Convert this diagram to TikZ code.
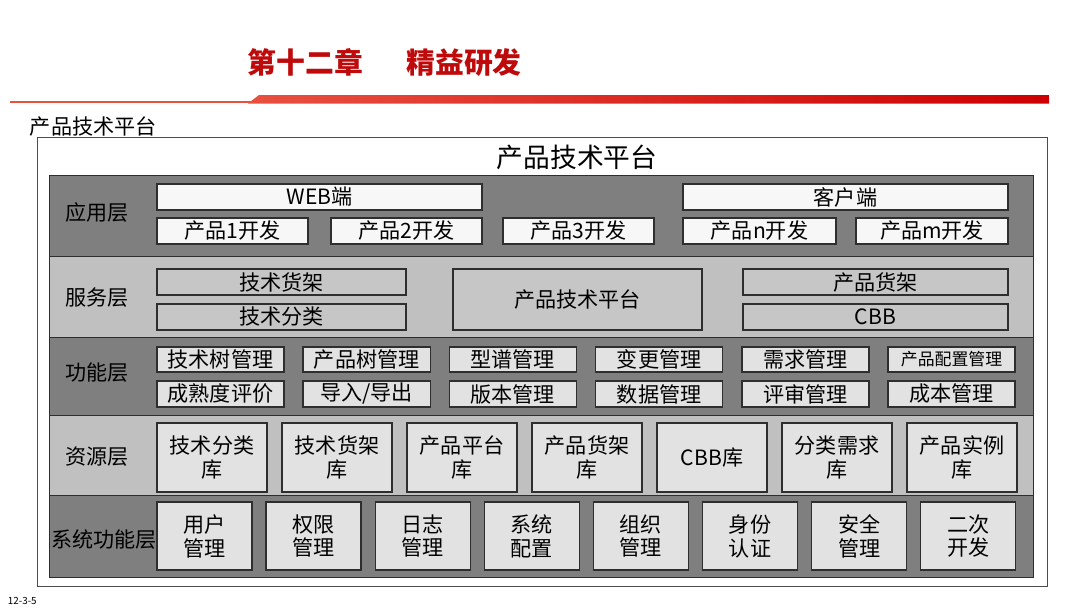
\documentclass[tikz,border=0pt]{standalone}
\usepackage{fontspec}
\setmainfont{Noto Sans CJK SC}
\usetikzlibrary{calc}

\newcommand{\unitpx}{0.025cm}
\definecolor{titlered}{HTML}{BE0A0A}
\definecolor{lineredA}{HTML}{E8503F}
\definecolor{lineredB}{HTML}{CC0000}
\definecolor{layerdark}{HTML}{7F7F7F}
\definecolor{layerlight}{HTML}{C0C0C0}
\definecolor{boxgray}{HTML}{C6C6C6}
\definecolor{boxlight}{HTML}{E2E2E2}
\definecolor{boxwhite}{HTML}{F7F7F7}
\definecolor{edgegray}{HTML}{2E2E2E}

\tikzset{
  cell/.style 2 args={draw=edgegray, line width=1pt, inner sep=0pt, outer sep=0pt,
    anchor=north west, align=center, font=\fontsize{15}{17}\selectfont,
    minimum width=#1*\unitpx, minimum height=#2*\unitpx},
  layername/.style={font=\fontsize{15}{17}\selectfont},
}

\begin{document}
\begin{tikzpicture}[x=\unitpx, y=-\unitpx]
        \useasboundingbox (0,0) rectangle (1080,608);

        % Header
        \node[font=\fontsize{20.5}{24}\selectfont\bfseries, text=titlered, anchor=west] (title) at (243,62) {第十二章\hspace{1.5em}精益研发};
        \fill[lineredA] (10,100.5) rectangle (252,103);
        \shade[left color=lineredA, right color=lineredB] (248,103.5) -- (259,95) -- (1049,95) -- (1049,103.5) -- cycle;
        \node[font=\fontsize{15}{17}\selectfont, anchor=west] (head) at (25,127) {产品技术平台};

        % Frame and layers
        \draw[draw=gray!60!black, fill=white] (37,137) rectangle (1047,586);
        \node[font=\fontsize{19}{22}\selectfont] (ptitle) at (577,157) {产品技术平台};
        \foreach \ya/\yb/\c in {175/256/layerdark, 256/337/layerlight, 337/415/layerdark, 415/495/layerlight, 495/577/layerdark}
            \draw[draw=edgegray, fill=\c] (49,\ya) rectangle (1033,\yb);
        \node[layername] (lapp) at (97,212) {应用层};
        \node[layername] (lsvc) at (97,298) {服务层};
        \node[layername] (lfun) at (97,373) {功能层};
        \node[layername] (lres) at (97,457) {资源层};
        \node[layername] (lsys) at (104,540) {系统功能层};

        % Application layer
        \node[cell={325}{26}, fill=boxwhite] (web) at (157,184) {WEB端};
        \node[cell={325}{26}, fill=boxwhite] (client) at (683,184) {客户端};
        \foreach \x/\w/\t [count=\i] in {157/151/产品1开发, 331/151/产品2开发, 503/151/产品3开发, 683/153/产品n开发, 856/152/产品m开发}
            \node[cell={\w}{26}, fill=boxwhite] (app\i) at (\x,218) {\t};

        % Service layer
        \node[cell={249}{26}, fill=boxgray] (techshelf) at (157,269) {技术货架};
        \node[cell={249}{26}, fill=boxgray] (techclass) at (157,304) {技术分类};
        \node[cell={249}{61}, fill=boxgray] (platform) at (453,269) {产品技术平台};
        \node[cell={265}{26}, fill=boxgray] (prodshelf) at (743,269) {产品货架};
        \node[cell={265}{26}, fill=boxgray] (cbb) at (743,304) {CBB};

        % Function layer
        \foreach \t [count=\i from 0] in {技术树管理, 产品树管理, 型谱管理, 变更管理, 需求管理, {\fontsize{12}{14}\selectfont 产品配置管理}}
            \node[cell={127}{25}, fill=boxlight] (funa\i) at ({157+\i*146.2},347) {\t};
        \foreach \t [count=\i from 0] in {成熟度评价, 导入/导出, 版本管理, 数据管理, 评审管理, 成本管理}
            \node[cell={127}{26}, fill=boxlight] (funb\i) at ({157+\i*146.2},381) {\t};

        % Resource layer
        \foreach \t [count=\i from 0] in {技术分类\\库, 技术货架\\库, 产品平台\\库, 产品货架\\库, CBB库, 分类需求\\库, 产品实例\\库}
            \node[cell={110}{69}, fill=boxlight] (res\i) at ({157+\i*125},423) {\t};

        % System function layer
        \foreach \t [count=\i from 0] in {用户\\管理, 权限\\管理, 日志\\管理, 系统\\配置, 组织\\管理, 身份\\认证, 安全\\管理, 二次\\开发}
            \node[cell={95}{68}, fill=boxlight] (sys\i) at ({157+\i*109.1},502) {\t};

        \node[font=\fontsize{7}{8}\selectfont, anchor=west] (pageno) at (3,601) {12-3-5};
    \end{tikzpicture}
\end{document}
